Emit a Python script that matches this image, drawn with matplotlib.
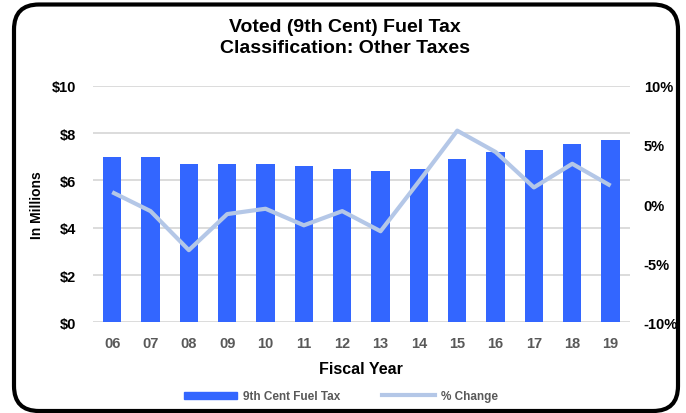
import matplotlib
matplotlib.use("Agg")
import matplotlib.pyplot as plt
from matplotlib.patches import FancyBboxPatch, Patch
from matplotlib.lines import Line2D

years = ["06", "07", "08", "09", "10", "11", "12", "13", "14", "15", "16", "17", "18", "19"]
fuel_tax = [7.0, 7.0, 6.7, 6.7, 6.7, 6.6, 6.5, 6.4, 6.5, 6.9, 7.2, 7.3, 7.55, 7.7]
pct_change = [1.0, -0.6, -3.9, -0.85, -0.4, -1.8, -0.6, -2.3, 1.9, 6.2, 4.4, 1.4, 3.4, 1.55]

left_ticks = [0, 2, 4, 6, 8, 10]
right_ticks = [-10, -5, 0, 5, 10]

BAR = "#3366ff"
LINE = "#b4c7e7"

plt.rcParams['font.family'] = ["Liberation Sans", "DejaVu Sans"]
plt.rcParams['font.weight'] = 'bold'

fig = plt.figure(figsize=(6.86, 4.14), dpi=100)
ax = fig.add_axes([0.1356, 0.219, 0.918 - 0.1356, 0.7906 - 0.219])
ax2 = ax.twinx()

x = list(range(len(years)))
ax.bar(x, fuel_tax, width=0.48, color=BAR, zorder=2)
ax2.plot(x, pct_change, color=LINE, lw=3, solid_capstyle='butt', zorder=3)

ax.set_xlim(-0.5, len(years) - 0.5)
ax.set_ylim(0, 10)
ax2.set_ylim(-10, 10)

ax.set_yticks(left_ticks)
ax.set_yticklabels([f"${v}" for v in left_ticks], fontsize=10.5, fontweight='bold')
ax2.set_yticks(right_ticks)
ax2.set_yticklabels([f"{v}%" for v in right_ticks], fontsize=10.5, fontweight='bold')
ax.set_xticks(x)
ax.set_xticklabels(years, fontsize=10.5, fontweight='bold', color="#595959")

ax.tick_params(axis='y', length=0, pad=12)
ax2.tick_params(axis='y', length=0, pad=10)
ax.tick_params(axis='x', length=0, pad=10)

ax.grid(axis='y', color="#d9d9d9", lw=1.3, zorder=0)
ax.set_axisbelow(True)
for a in (ax, ax2):
    for s in a.spines.values():
        s.set_visible(False)

ax.set_xlabel("Fiscal Year", fontsize=11.5, fontweight='bold', labelpad=8)
ax.set_ylabel("In Millions", fontsize=10, fontweight='bold', labelpad=6)

fig.text(0.503, 0.908, "Voted (9th Cent) Fuel Tax\nClassification: Other Taxes",
         ha='center', va='center', fontsize=14, fontweight='bold', linespacing=1.3)

handles = [Patch(color=BAR), Line2D([0], [0], color=LINE, lw=3)]
fig.legend(handles, ["9th Cent Fuel Tax", "% Change"], loc='center',
           bbox_to_anchor=(0.497, 0.04), ncol=2, frameon=False,
           prop={'size': 8.5, 'weight': 'bold'}, labelcolor="#595959",
           handlelength=4.5, handleheight=0.6, columnspacing=3.5, handletextpad=0.5)

border = FancyBboxPatch((0.14, 0.02), 6.64, 4.065,
                        boxstyle="round,pad=0,rounding_size=0.25",
                        transform=fig.dpi_scale_trans, fill=False,
                        ec="black", lw=3)
fig.patches.append(border)

fig.savefig("out.png", dpi=100)
